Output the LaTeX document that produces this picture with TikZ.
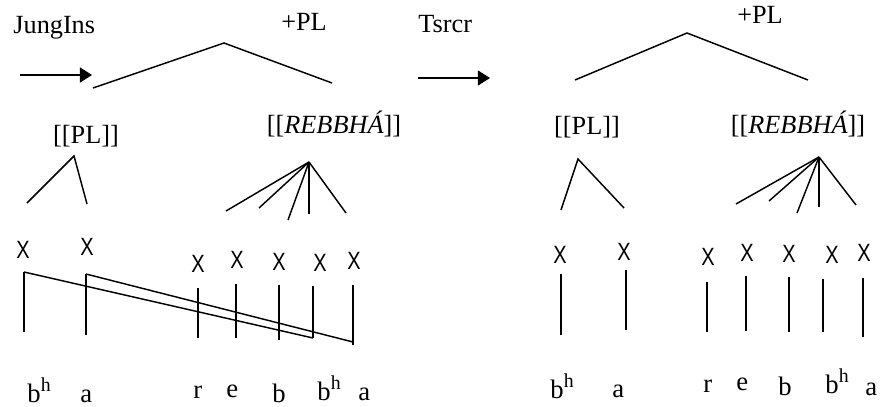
\documentclass[tikz,border=0pt]{standalone}
\usepackage{fontspec}
\setmainfont{Liberation Serif}
\newfontfamily\skelfont{Liberation Sans}
\usetikzlibrary{arrows.meta}
\tikzset{
  rulename/.style={inner sep=0pt,anchor=base west,font=\fontsize{12.6}{14}\selectfont},
  morph/.style={inner sep=0pt,anchor=base,font=\fontsize{12.6}{14}\selectfont},
  skel/.style={inner sep=0pt,font=\skelfont\fontsize{12}{14}\selectfont},
  seg/.style={inner sep=0pt,anchor=base west,font=\fontsize{12.8}{14}\selectfont},
  branch/.style={line width=0.7pt},
  assoc/.style={line width=0.7pt},
  derive/.style={-{Triangle[length=5.8pt,width=7.2pt]},line width=0.7pt}
}
\newcommand{\skelx}{\scalebox{0.8}[1]{X}}
\newcommand{\asp}{\raisebox{0.38em}{\fontsize{9.5}{10}\selectfont h}}

\begin{document}
\begin{tikzpicture}[x=0.48pt,y=-0.48pt]
\useasboundingbox (0,0) rectangle (894,406);
% --- after Jungle Insertion
\node[rulename] (jung) at (13,33) {JungIns};
\coordinate (jungS) at (20,75); \coordinate (jungE) at (92,75);
\draw[derive] (jungS) -- (jungE);
\node[morph] (plA) at (304,30) {+PL};
\coordinate (topA) at (224,43); \coordinate (topAl) at (93,88); \coordinate (topAr) at (332,83);
\draw[branch] (topAl) -- (topA) -- (topAr);
\node[morph] (affA) at (86,143) {[[PL]]};
\node[morph] (rootA) at (334,133) {[[\textit{REBBHÁ}]]};
\coordinate (affAt) at (74,156); \coordinate (affAl) at (27,203); \coordinate (affAr) at (87,204);
\draw[branch] (affAl) -- (affAt) -- (affAr);
\coordinate (rootAt) at (309,162);
\foreach \i/\x/\y in {1/226/211,2/259/208,3/288/220,4/309/214,5/346/213}
  {\coordinate (rootAe\i) at (\x,\y); \draw[branch] (rootAt) -- (rootAe\i);}
\foreach \i/\x/\y in {1/23/250,2/87/247,3/198/264,4/237/260,5/279/262,6/320/263,7/354/261}
  \node[skel] (xA\i) at (\x,\y) {\skelx};
\foreach \i/\x/\t/\b in {1/24/272/332,2/86/274/335,3/198/288/338,4/236/284/338,5/279/285/340,6/313/286/338,7/353/285/345}
  {\coordinate (lnA\i) at (\x,\t); \coordinate (ftA\i) at (\x,\b); \draw[assoc] (lnA\i) -- (ftA\i);}
\coordinate (endA7) at (353,342);
\draw[assoc] (lnA1) -- (ftA6); \draw[assoc] (lnA2) -- (endA7);
\foreach \i/\x/\y/\s in {1/27/402/b\asp,2/80/402/a,3/193/398/r,4/226/397/e,5/272/402/b,6/317/400/b\asp,7/358/400/a}
  \node[seg] (sA\i) at (\x,\y) {\s};
% --- after Tsrcr
\node[rulename] (tsrcr) at (418,32) {Tsrcr};
\coordinate (tsrcrS) at (418,78); \coordinate (tsrcrE) at (490,78);
\draw[derive] (tsrcrS) -- (tsrcrE);
\node[morph] (plB) at (760,23) {+PL};
\coordinate (topB) at (687,33); \coordinate (topBl) at (575,80); \coordinate (topBr) at (808,80);
\draw[branch] (topBl) -- (topB) -- (topBr);
\node[morph] (affB) at (587,134) {[[PL]]};
\node[morph] (rootB) at (798,133) {[[\textit{REBBHÁ}]]};
\coordinate (affBt) at (578,159); \coordinate (affBl) at (561,210); \coordinate (affBr) at (624,208);
\draw[branch] (affBl) -- (affBt) -- (affBr);
\coordinate (rootBt) at (819,157);
\foreach \i/\x/\y in {1/736/204,2/769/201,3/797/213,4/819/207,5/856/205}
  {\coordinate (rootBe\i) at (\x,\y); \draw[branch] (rootBt) -- (rootBe\i);}
\foreach \i/\x/\y in {1/560/255,2/624/252,3/708/257,4/747/253,5/789/254,6/832/255,7/864/253}
  \node[skel] (xB\i) at (\x,\y) {\skelx};
\foreach \i/\x/\t/\b in {1/561/274/335,2/626/270/330,3/707/282/332,4/746/276/331,5/789/277/332,6/823/279/332,7/863/278/337}
  {\coordinate (lnB\i) at (\x,\t); \coordinate (ftB\i) at (\x,\b); \draw[assoc] (lnB\i) -- (ftB\i);}
\foreach \i/\x/\y/\s in {1/550/398/b\asp,2/612/397/a,3/703/392/r,4/736/390/e,5/778/395/b,6/825/393/b\asp,7/865/395/a}
  \node[seg] (sB\i) at (\x,\y) {\s};
\end{tikzpicture}
\end{document}
